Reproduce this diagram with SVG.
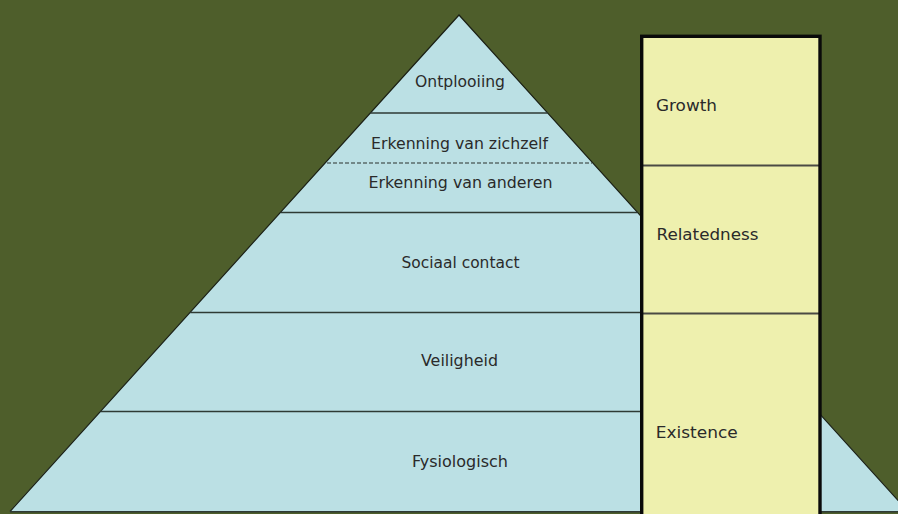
<svg xmlns="http://www.w3.org/2000/svg" width="898" height="514" viewBox="0 0 898 514">
  <style>
    .layer { fill: #bbe0e4; stroke: none; }
    .sep { stroke: #2e3a34; stroke-width: 1.5; fill: none; }
    .dash { stroke: #2a302c; stroke-width: 1.2; stroke-dasharray: 4 2; fill: none; }
    .edge { stroke: #1a1f14; stroke-width: 1.2; fill: none; }
    .lbl { font-family: "DejaVu Sans", Verdana, sans-serif; font-size: 15px; fill: #2a2a2a; }
    .mid { text-anchor: middle; }
    .band { fill: #eef0ae; stroke: none; }
    .bandsep { stroke: #4a4a44; stroke-width: 2; }
    .frame { fill: none; stroke: #0a0a0a; stroke-width: 3.4; }
  </style>

  <!-- background -->
  <rect x="0" y="0" width="898" height="514" fill="#4e5e2b"/>

  <!-- pyramid levels, top to bottom -->
  <g id="ontplooiing">
    <polygon class="layer" points="459,15 547.7,113 370.3,113"/>
    <text class="lbl mid" x="460" y="87" textLength="90" lengthAdjust="spacingAndGlyphs">Ontplooiing</text>
  </g>
  <g id="erkenning-zelf">
    <polygon class="layer" points="370.3,113 547.7,113 592.9,163 325.1,163"/>
    <text class="lbl mid" x="459.5" y="149" textLength="177" lengthAdjust="spacingAndGlyphs">Erkenning van zichzelf</text>
  </g>
  <g id="erkenning-anderen">
    <polygon class="layer" points="325.1,163 592.9,163 637.3,212 280.7,212"/>
    <text class="lbl mid" x="460.5" y="188" textLength="184" lengthAdjust="spacingAndGlyphs">Erkenning van anderen</text>
  </g>
  <g id="sociaal-contact">
    <polygon class="layer" points="280.7,212 637.3,212 727.8,312 190.2,312"/>
    <text class="lbl mid" x="460.5" y="268" textLength="118" lengthAdjust="spacingAndGlyphs">Sociaal contact</text>
  </g>
  <g id="veiligheid">
    <polygon class="layer" points="190.2,312 727.8,312 817.4,411 100.6,411"/>
    <text class="lbl mid" x="459.5" y="366" textLength="77" lengthAdjust="spacingAndGlyphs">Veiligheid</text>
  </g>
  <g id="fysiologisch">
    <polygon class="layer" points="100.6,411 817.4,411 908,511 10,511"/>
    <text class="lbl mid" x="460" y="467" textLength="96" lengthAdjust="spacingAndGlyphs">Fysiologisch</text>
  </g>

  <!-- pyramid outline and level separators -->
  <g id="pyramid-lines">
    <polyline class="edge" points="10,511.5 459,15 908,511.5"/>
    <line class="sep" x1="370.3" y1="113" x2="547.7" y2="113"/>
    <line class="dash" x1="327" y1="163" x2="592" y2="163"/>
    <line class="sep" x1="280.7" y1="212.5" x2="637.3" y2="212.5"/>
    <line class="sep" x1="190.2" y1="312.5" x2="727.8" y2="312.5"/>
    <line class="sep" x1="100.6" y1="411.5" x2="817.4" y2="411.5"/>
    <line class="sep" x1="10" y1="511.8" x2="898" y2="511.8"/>
  </g>

  <!-- ERG column -->
  <g id="erg-column">
    <rect class="band" x="641.5" y="36" width="178" height="480"/>
    <line class="bandsep" x1="642" y1="165.5" x2="819" y2="165.5"/>
    <line class="bandsep" x1="642" y1="313.5" x2="819" y2="313.5"/>
    <rect class="frame" x="641.7" y="36.3" width="178.3" height="484"/>
  </g>
  <g id="growth">
    <text class="lbl" x="656" y="110.5" textLength="61" lengthAdjust="spacingAndGlyphs">Growth</text>
  </g>
  <g id="relatedness">
    <text class="lbl" x="656.5" y="240" textLength="102" lengthAdjust="spacingAndGlyphs">Relatedness</text>
  </g>
  <g id="existence">
    <text class="lbl" x="655.7" y="438" textLength="82" lengthAdjust="spacingAndGlyphs">Existence</text>
  </g>
</svg>
